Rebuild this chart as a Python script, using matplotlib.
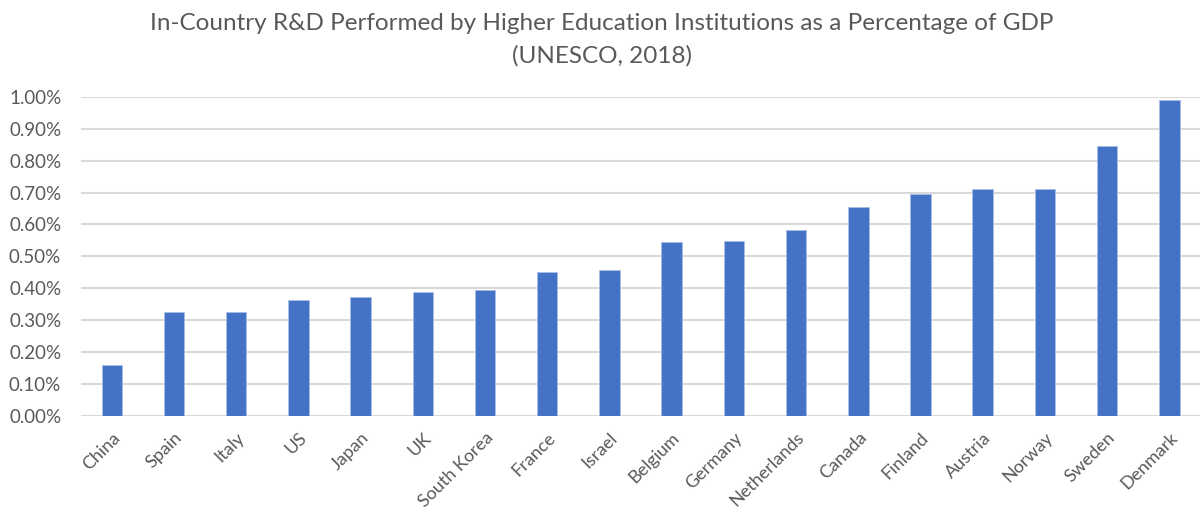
import matplotlib.pyplot as plt
from matplotlib.ticker import FuncFormatter

countries = ['China', 'Spain', 'Italy', 'US', 'Japan', 'UK', 'South Korea', 'France',
             'Israel', 'Belgium', 'Germany', 'Netherlands', 'Canada', 'Finland',
             'Austria', 'Norway', 'Sweden', 'Denmark']
pct_gdp = [0.158, 0.326, 0.326, 0.362, 0.373, 0.388, 0.395, 0.450,
           0.457, 0.544, 0.548, 0.584, 0.654, 0.697,
           0.712, 0.712, 0.846, 0.992]
yticks = [0.0, 0.1, 0.2, 0.3, 0.4, 0.5, 0.6, 0.7, 0.8, 0.9, 1.0]

plt.rcParams['font.family'] = ['Lato', 'DejaVu Sans']
grey = '#595959'

fig = plt.figure(figsize=(12.04, 5.2), dpi=100)
ax = fig.add_axes([0.067, 0.2006, 0.930, 0.6129])

x = range(len(countries))
ax.bar(x, pct_gdp, width=0.33, color='#4472c4', edgecolor='#a9bfe6', linewidth=0.6, zorder=3)

ax.set_ylim(0, 1.0)
ax.set_xlim(-0.5, len(countries) - 0.5)
ax.set_yticks(yticks)
ax.yaxis.set_major_formatter(FuncFormatter(lambda v, p: '%.2f%%' % v))
ax.grid(axis='y', color='#d9d9d9', linewidth=1.5, zorder=0)
ax.set_axisbelow(True)
for s in ax.spines.values():
    s.set_visible(False)
ax.tick_params(axis='y', length=0, colors=grey, labelsize=13.5, pad=14)
ax.set_xticks(list(x))
ax.set_xticklabels(countries, rotation=45, ha='right', rotation_mode='anchor')
ax.tick_params(axis='x', length=0, colors=grey, labelsize=13, pad=10)

fig.text(0.5, 0.955, 'In-Country R&D Performed by Higher Education Institutions as a Percentage of GDP',
         ha='center', va='center', fontsize=17.5, color=grey)
fig.text(0.5, 0.893, '(UNESCO, 2018)', ha='center', va='center', fontsize=17.5, color=grey)

plt.savefig('out.png', dpi=100)
